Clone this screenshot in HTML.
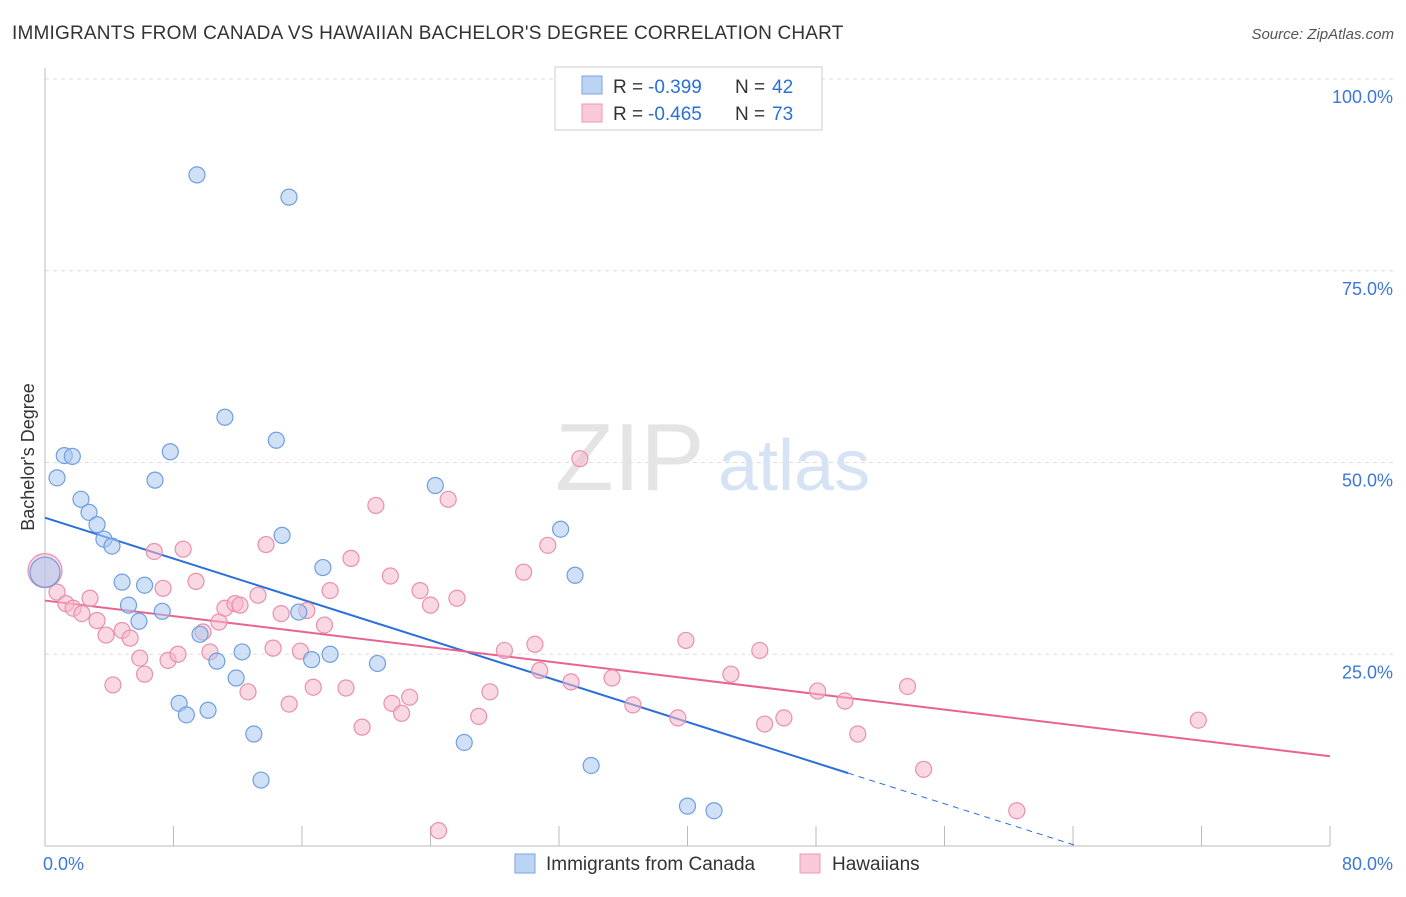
<!DOCTYPE html>
<html><head><meta charset="utf-8"><style>
body{margin:0;background:#fff;font-family:"Liberation Sans",sans-serif;}
svg text{font-family:"Liberation Sans",sans-serif;}
</style></head><body>
<svg id="chart" width="1406" height="892" viewBox="0 0 1406 892" xmlns="http://www.w3.org/2000/svg">
<text x="12" y="39" font-size="19" letter-spacing="0.2" fill="#333">IMMIGRANTS FROM CANADA VS HAWAIIAN BACHELOR'S DEGREE CORRELATION CHART</text>
<text x="1394" y="39" font-size="15" fill="#555" text-anchor="end" font-style="italic">Source: ZipAtlas.com</text>
<g id="grid"></g>
<g>
<text x="555" y="490" font-size="96" fill="#e4e4e4" font-family="Liberation Serif,serif">ZIP</text>
<text x="718" y="490" font-size="72" fill="#d5e3f5">atlas</text>
</g>
<g id="axes"></g>
<text transform="translate(34,457) rotate(-90)" font-size="18" fill="#333" text-anchor="middle">Bachelor's Degree</text>
<g id="lines"></g>
<g id="points"></g>
<g>
<rect x="555" y="67" width="267" height="63" fill="#fff" stroke="#ccc"/>
<rect x="582" y="76" width="20" height="18" fill="#bcd4f3" stroke="#7aa6e0"/>
<rect x="582" y="104" width="20" height="18" fill="#f9c9d8" stroke="#ec9ab5"/>
<text x="613" y="93" font-size="19" fill="#333">R =</text><text x="648" y="93" font-size="19" fill="#2a6fdb">-0.399</text>
<text x="735" y="93" font-size="19" fill="#333">N =</text><text x="772" y="93" font-size="19" fill="#2a6fdb">42</text>
<text x="613" y="120" font-size="19" fill="#333">R =</text><text x="648" y="120" font-size="19" fill="#2a6fdb">-0.465</text>
<text x="735" y="120" font-size="19" fill="#333">N =</text><text x="772" y="120" font-size="19" fill="#2a6fdb">73</text>
</g>
<g>
<rect x="515" y="854" width="20" height="19" fill="#bcd4f3" stroke="#7aa6e0"/>
<text x="546" y="870" font-size="19" fill="#333">Immigrants from Canada</text>
<rect x="800" y="854" width="20" height="19" fill="#f9c9d8" stroke="#ec9ab5"/>
<text x="832" y="870" font-size="19" fill="#333">Hawaiians</text>
</g>
</svg>
<script>
const blueX=[9.46,15.19,11.2,14.4,7.8,1.2,1.7,0.75,6.85,2.24,2.74,3.24,3.67,4.17,14.76,24.3,32.1,33.0,17.3,4.8,6.2,5.2,7.3,5.85,15.8,9.65,12.27,10.7,16.6,17.75,20.7,11.9,8.35,8.8,10.15,13.0,26.1,34.0,13.45,40.0,41.65];
const blueY=[87.5,84.6,55.9,52.9,51.4,50.9,50.8,48.0,47.7,45.2,43.5,41.9,40.0,39.1,40.5,47.0,41.3,35.3,36.3,34.4,34.0,31.4,30.6,29.3,30.5,27.6,25.3,24.1,24.3,25.0,23.8,21.9,18.6,17.1,17.7,14.6,13.5,10.5,8.6,5.2,4.6];
const pinkX=[0.75,1.3,1.75,2.3,2.8,3.24,3.8,4.23,4.8,5.3,5.9,6.2,6.8,7.35,7.66,8.28,8.6,9.4,9.84,10.27,10.83,11.2,11.83,12.14,12.64,13.26,13.76,14.2,14.7,15.2,15.9,16.3,16.7,17.4,17.75,18.74,19.05,19.74,20.6,21.5,21.6,22.2,22.7,23.35,24.0,24.5,25.1,25.65,27.0,27.7,28.6,29.8,30.5,30.8,31.3,32.75,33.3,35.3,36.6,39.4,39.9,42.7,44.5,44.8,46.0,48.1,49.8,50.6,53.7,54.7,60.5,71.8];
const pinkY=[33.1,31.6,31.0,30.3,32.3,29.4,27.5,21.0,28.1,27.1,24.5,22.4,38.4,33.6,24.2,25.0,38.7,34.5,27.9,25.3,29.2,31.0,31.6,31.4,20.1,32.7,39.3,25.8,30.3,18.5,25.4,30.7,20.7,28.8,33.3,20.6,37.5,15.5,44.4,35.2,18.6,17.3,19.4,33.3,31.4,2.0,45.2,32.3,16.9,20.1,25.5,35.7,26.3,22.9,39.2,21.4,50.5,21.9,18.4,16.7,26.8,22.4,25.5,15.9,16.7,20.2,18.9,14.6,20.8,10.0,4.6,16.4];
const bigBlue=[0,35.7], bigPink=[0,35.9];
const blueTrend=[42.8,-0.666,50], pinkTrend=[32.0,11.7];
const yTicks=[25,50,75,100];
const xTickCount=10;
const NS="http://www.w3.org/2000/svg";
const sx=v=>45+v*(1285/80), sy=v=>846-v*7.67;
function mk(tag,attrs,parent){const e=document.createElementNS(NS,tag);for(const k in attrs)e.setAttribute(k,attrs[k]);parent.appendChild(e);return e;}
const grid=document.getElementById('grid'),axes=document.getElementById('axes'),lines=document.getElementById('lines'),pts=document.getElementById('points');
yTicks.forEach(t=>{
 const l=mk('line',{x1:45,x2:1394,y1:sy(t),y2:sy(t),stroke:'#ddd','stroke-dasharray':'4 4'},grid);
 
 
 const tx=mk('text',{x:1393,y:sy(t)+24,'font-size':18,fill:'#3b78d8','text-anchor':'end'},axes);
 tx.textContent=t.toFixed(1)+'%';
 
 
});
const ax=mk('line',{x1:45,x2:1330,y1:846,y2:846,stroke:'#bbb'},axes);


const ay=mk('line',{x1:45,x2:45,y1:68,y2:846,stroke:'#bbb'},axes);


for(let i=0;i<=xTickCount;i++){const x=sx(i*8);const t=mk('line',{x1:x,x2:x,y1:826,y2:846,stroke:'#bbb'},axes);
 
 }
[[0,'start','0.0%'],[80,'end','80.0%']].forEach(a=>{const t=mk('text',{x:sx(a[0])+(a[1]=='start'?-2:63),y:870,'font-size':18,fill:'#3b78d8','text-anchor':a[1]},axes);t.textContent=a[2];
 
 });
function dot(x,y,r,c,name){const e=mk('circle',{cx:sx(x),cy:sy(y),r:r,fill:c[0],'fill-opacity':0.55,stroke:c[1],'stroke-width':1.2},pts);
 
 }
const BC=['#a9c8f0','#6f9fe0'],PC=['#f6b8cc','#e890ad'];
pinkX.forEach((x,i)=>dot(x,pinkY[i],8,PC,'hawaiians-point'));
blueX.forEach((x,i)=>dot(x,blueY[i],8,BC,'canada-point'));
dot(bigPink[0],bigPink[1],17,PC,'hawaiians-point');
dot(bigBlue[0],bigBlue[1],15,BC,'canada-point');
const [b0,b1,bEnd]=blueTrend;
const bl=mk('line',{x1:sx(0),y1:sy(b0),x2:sx(bEnd),y2:sy(b0+b1*bEnd),stroke:'#2a6fdb','stroke-width':2},lines);


const zx=-b0/b1;
const bd=mk('line',{x1:sx(bEnd),y1:sy(b0+b1*bEnd),x2:sx(zx),y2:sy(0),stroke:'#2a6fdb','stroke-width':1,'stroke-dasharray':'6 5'},lines);


const pl=mk('line',{x1:sx(0),y1:sy(pinkTrend[0]),x2:sx(80),y2:sy(pinkTrend[1]),stroke:'#e8648f','stroke-width':2},lines);


</script>
</body></html>
